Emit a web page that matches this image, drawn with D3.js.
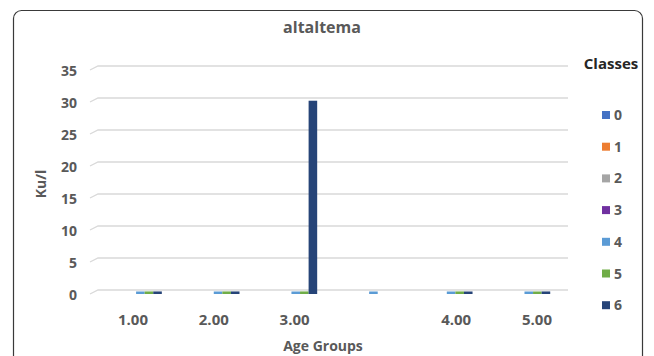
<!DOCTYPE html>
<html><head><meta charset="utf-8">
<script src="https://cdn.jsdelivr.net/npm/d3@7"></script>
<style>body{margin:0;background:#fff}svg{display:block}text{font-family:"Open Sans",sans-serif;font-weight:700}</style>
</head><body><svg id="c" width="654" height="356"></svg>
<script>
const categories = ["1.00","2.00","3.00","","4.00","5.00"];
const classes = ["0","1","2","3","4","5","6"];
const classColors = ["#4472C4","#ED7D31","#A5A5A5","#7030A0","#5B9BD5","#70AD47","#264478"];
// values[class][category]
const class0 = [0,0,0,0,0,0];
const class1 = [0,0,0,0,0,0];
const class2 = [0,0,0,0,0,0];
const class3 = [0,0,0,0,0,0];
const class4 = [0.3,0.3,0.2,0.3,0.3,0.3];
const class5 = [0.4,0.4,0.4,0,0.4,0.3];
const class6 = [0.4,0.4,30.2,0,0.3,0.4];
const yTicks = [0,5,10,15,20,25,30,35];
const series = [class0,class1,class2,class3,class4,class5,class6];

const svg = d3.select("#c");
// frame
svg.append("rect").attr("x",13.5).attr("y",10.5).attr("width",629).attr("height",360)
  .attr("rx",8).attr("fill","#fff").attr("stroke","#3a3a3a").attr("stroke-width",1.2);

const y = d3.scaleLinear().domain([0,35]).range([290,66]);
const x = d3.scaleBand().domain(d3.range(categories.length)).range([93,559]).paddingInner(0.227).paddingOuter(0.113);
const xi = d3.scaleBand().domain(classes).range([0,x.bandwidth()]);
const xl = d3.scalePoint().domain(d3.range(categories.length)).range([133,537]);

// gridlines with perspective stub
const g = svg.append("g");
yTicks.forEach(t=>{
  g.append("path").attr("d",`M90,${y(t)+4}L98,${y(t)}H568`).attr("fill","none")
   .attr("stroke","#d9d9d9").attr("stroke-width",1.3);
});
// y tick labels
svg.append("g").selectAll("text").data(yTicks).join("text")
  .attr("x",77).attr("y",t=>y(t)+10).attr("text-anchor","end")
  .attr("font-size",14).attr("fill","#595959").text(t=>t);

// bars
const bars = svg.append("g").attr("transform","translate(0,4)");
series.forEach((vals,ci)=>{
  bars.selectAll(null).data(vals).join("rect")
    .attr("x",(v,i)=>x(i)+xi(classes[ci]))
    .attr("width",xi.bandwidth())
    .attr("y",v=>Math.min(y(v),y(0)-2.5))
    .attr("height",v=>Math.max(y(0)-y(v),2.5))
    .attr("fill",classColors[ci])
    .attr("display",v=>v>0?null:"none");
});

// x labels
svg.append("g").selectAll("text").data(categories).join("text")
  .attr("x",(d,i)=>xl(i)).attr("y",325).attr("text-anchor","middle")
  .attr("font-size",15).attr("fill","#595959").text(d=>d);

// titles
svg.append("text").attr("x",322).attr("y",33).attr("text-anchor","middle")
  .attr("font-size",16).attr("fill","#595959").text("altaltema");
svg.append("text").attr("x",323).attr("y",351).attr("text-anchor","middle")
  .attr("font-size",14).attr("fill","#595959").text("Age Groups");
svg.append("text").attr("transform","translate(46,184) rotate(-90)").attr("text-anchor","middle")
  .attr("font-size",14).attr("fill","#595959").text("Ku/l");

// legend
svg.append("text").attr("x",611).attr("y",69).attr("text-anchor","middle")
  .attr("font-size",15).attr("fill","#262626").text("Classes");
const leg = svg.append("g").selectAll("g").data(classes).join("g")
  .attr("transform",(d,i)=>`translate(602,${115+i*31.7})`);
leg.append("rect").attr("x",0).attr("y",-4).attr("width",8).attr("height",8).attr("fill",(d,i)=>classColors[i]);
leg.append("text").attr("x",12).attr("y",5).attr("font-size",14).attr("fill","#595959").text(d=>d);
</script></body></html>
